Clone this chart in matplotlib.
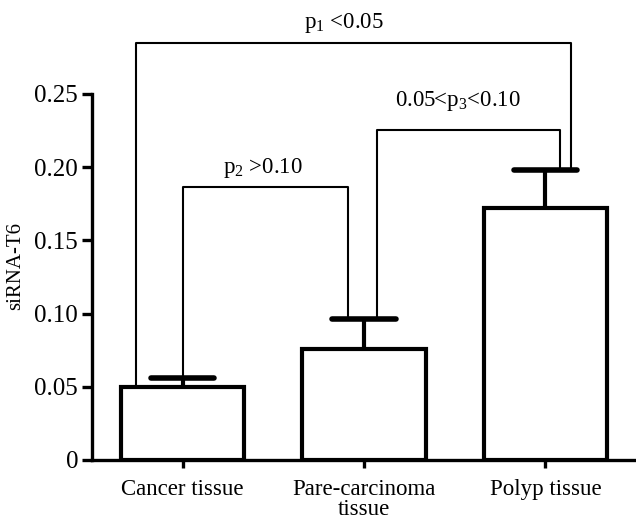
import numpy as np
import matplotlib.pyplot as plt

plt.rcParams['font.family'] = ['Liberation Serif', 'DejaVu Serif']
plt.rcParams['mathtext.default'] = 'regular'

categories = ['Cancer tissue', 'Pare-carcinoma\ntissue', 'Polyp tissue']
means = [0.050, 0.076, 0.172]
errors = [0.006, 0.020, 0.026]
p_labels = ['p$_1$ <0.05', 'p$_2$ >0.10', '0.05<p$_3$<0.10']

fig = plt.figure(figsize=(6.36, 5.19), dpi=100)
ax = fig.add_axes([0.1447, 0.1137, 0.8553, 0.7052])

x = np.arange(len(categories))
tops = np.array(means) + np.array(errors)

ax.bar(x, means, width=0.68, color='white', edgecolor='black', linewidth=3, zorder=2)
# one-sided error bars (upper only)
ax.vlines(x, means, tops, color='black', lw=3, zorder=3)
ax.hlines(tops, x - 0.175, x + 0.175, color='black', lw=4, capstyle='round', zorder=3)

# brackets for the p-values
def bracket(x0, x1, y0, y1, h, label, tx, ty):
    ax.plot([x0, x0, x1, x1], [y0, h, h, y1], color='black', lw=1.5,
            clip_on=False, zorder=1)
    ax.text(tx, ty, label, ha='center', va='center', fontsize=16.5, clip_on=False)

bracket(-0.26, 2.14, means[0], tops[2], 0.285, p_labels[0], 0.89, 0.2985)
bracket(0.0, 0.91, tops[0], tops[1], 0.1865, p_labels[1], 0.44, 0.1995)
bracket(1.07, 2.08, tops[1], tops[2], 0.2255, p_labels[2], 1.52, 0.2455)

ax.set_xlim(-0.5, 2.5)
ax.set_ylim(0, 0.25)
ax.set_yticks([0, 0.05, 0.10, 0.15, 0.20, 0.25])
ax.set_yticklabels(['0', '0.05', '0.10', '0.15', '0.20', '0.25'])
ax.set_xticks(x)
ax.set_xticklabels(categories, linespacing=0.9)

ax.spines['top'].set_visible(False)
ax.spines['right'].set_visible(False)
ax.spines['left'].set_linewidth(2.4)
ax.spines['bottom'].set_linewidth(2.4)
ax.tick_params(axis='y', length=7, width=2.4, labelsize=18, pad=3)
ax.tick_params(axis='x', length=6, width=2.4, labelsize=16.5, pad=8)

ax.set_ylabel('siRNA-T6', fontsize=15)
ax.yaxis.set_label_coords(-0.123, 0.53)

fig.savefig('out.png', dpi=100)
